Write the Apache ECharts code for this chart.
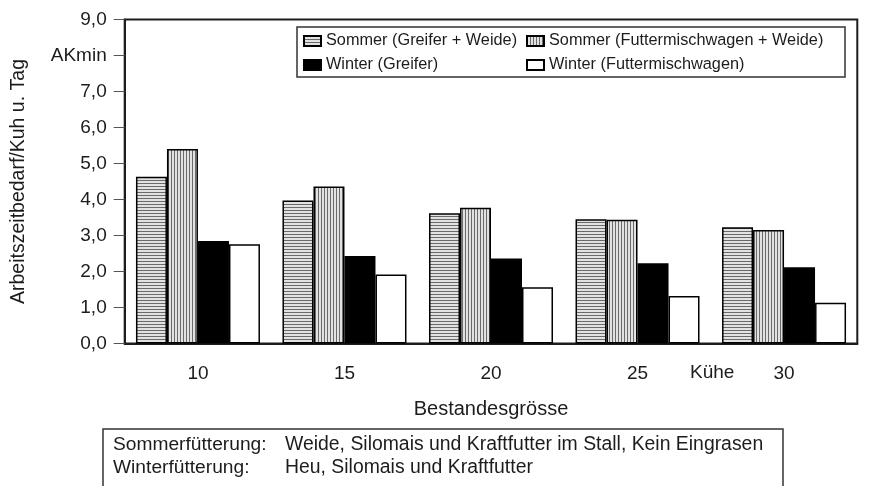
<!DOCTYPE html>
<html>
<head>
<meta charset="utf-8">
<script src="https://cdn.jsdelivr.net/npm/echarts@6/dist/echarts.min.js"></script>
<style>
  html, body { margin: 0; padding: 0; background: #fff; }
  #chart { width: 873px; height: 486px; }
</style>
</head>
<body>
<div id="chart"></div>
<script>
// Herd sizes (cows) on the category axis
const herdSizes = ['10', '15', '20', '25', '30'];

// Labour requirement, AKmin per cow and day
const sommerGreifer = [4.63, 3.97, 3.62, 3.45, 3.23];
const sommerMischwagen = [5.40, 4.36, 3.77, 3.44, 3.15];
const winterGreifer = [2.85, 2.43, 2.36, 2.23, 2.12];
const winterMischwagen = [2.76, 1.92, 1.56, 1.32, 1.13];

const seriesNames = [
  'Sommer (Greifer + Weide)',
  'Sommer (Futtermischwagen + Weide)',
  'Winter (Greifer)',
  'Winter (Futtermischwagen)'
];

// Value-axis tick labels (the 8 mark carries the unit)
const yTickLabels = ['0,0', '1,0', '2,0', '3,0', '4,0', '5,0', '6,0', '7,0', 'AKmin', '9,0'];

const noteLines = [
  ['Sommerfütterung:', 'Weide, Silomais und Kraftfutter im Stall, Kein Eingrasen'],
  ['Winterfütterung:', 'Heu, Silomais und Kraftfutter']
];

const FONT = '"Liberation Sans", Arial, Helvetica, sans-serif';
const INK = '#1c1c1c';

// Hatch fills: fine horizontal and vertical rulings
function hatch(horizontal) {
  const c = document.createElement('canvas');
  c.width = horizontal ? 4 : 3;
  c.height = horizontal ? 3 : 4;
  const g = c.getContext('2d');
  g.fillStyle = '#e2e2e2';
  g.fillRect(0, 0, c.width, c.height);
  g.fillStyle = '#6a6a6a';
  if (horizontal) g.fillRect(0, 0, c.width, 1);
  else g.fillRect(0, 0, 1, c.height);
  return { image: c, repeat: 'repeat' };
}

const fills = [hatch(true), hatch(false), '#000000', '#ffffff'];
const values = [sommerGreifer, sommerMischwagen, winterGreifer, winterMischwagen];

const chart = echarts.init(document.getElementById('chart'), null, { renderer: 'canvas' });

const legendSpots = [
  { left: 303, top: 32 },
  { left: 526, top: 32 },
  { left: 303, top: 56 },
  { left: 526, top: 56 }
];

chart.setOption({
  animation: false,
  backgroundColor: '#ffffff',
  textStyle: { fontFamily: FONT, color: INK },
  grid: {
    left: 124.7, right: 15.7, top: 19.5, bottom: 142.5,
    show: true, borderColor: INK, borderWidth: 2, backgroundColor: 'transparent'
  },
  legend: legendSpots.map((p, i) => ({
    data: [seriesNames[i]],
    left: p.left, top: p.top,
    padding: 0,
    icon: 'rect',
    itemWidth: 17, itemHeight: 10,
    selectedMode: false,
    textStyle: { fontFamily: FONT, fontSize: 16.3, color: INK, lineHeight: 18 }
  })),
  xAxis: {
    type: 'category',
    data: herdSizes,
    name: 'Bestandesgrösse',
    nameLocation: 'middle',
    nameGap: 56,
    nameTextStyle: { fontFamily: FONT, fontSize: 20, color: INK },
    axisLine: { lineStyle: { color: INK, width: 2 } },
    axisTick: { alignWithLabel: true, length: 12, lineStyle: { color: '#555', width: 1 } },
    axisLabel: { fontFamily: FONT, fontSize: 19, color: INK, margin: 21 }
  },
  yAxis: {
    type: 'value',
    min: 0, max: 9, interval: 1,
    name: 'Arbeitszeitbedarf/Kuh u. Tag',
    nameLocation: 'middle',
    nameGap: 96,
    nameTextStyle: { fontFamily: FONT, fontSize: 19.5, color: INK },
    splitLine: { show: false },
    axisLine: { show: true, lineStyle: { color: INK, width: 2 } },
    axisTick: { show: true, length: 11, lineStyle: { color: '#555', width: 1 } },
    axisLabel: {
      fontFamily: FONT, fontSize: 19, color: INK, margin: 18,
      formatter: v => yTickLabels[Math.round(v)]
    }
  },
  series: values.map((d, i) => ({
    name: seriesNames[i],
    type: 'bar',
    data: d,
    barWidth: 31,
    barGap: '0%',
    itemStyle: { color: fills[i], borderColor: '#000', borderWidth: 1.5 },
    emphasis: { disabled: true }
  })),
  graphic: [
    // legend frame
    {
      type: 'rect', z: 0,
      shape: { x: 297, y: 27, width: 548, height: 50 },
      style: { fill: '#fff', stroke: '#333', lineWidth: 1.5 }
    },
    // unit next to the last herd size
    {
      type: 'text', left: 690, top: 363,
      style: { text: 'Kühe', font: '19px ' + FONT, fill: INK }
    },
    // feeding notes box
    {
      type: 'rect',
      shape: { x: 103, y: 429, width: 680, height: 62 },
      style: { fill: '#fff', stroke: '#333', lineWidth: 1.5 }
    },
    ...noteLines.flatMap((ln, r) => [
      { type: 'text', left: 113, top: 435 + r * 23, style: { text: ln[0], font: '19.2px ' + FONT, fill: INK } },
      { type: 'text', left: 285, top: 435 + r * 23, style: { text: ln[1], font: '19.4px ' + FONT, fill: INK } }
    ])
  ]
});
</script>
</body>
</html>
